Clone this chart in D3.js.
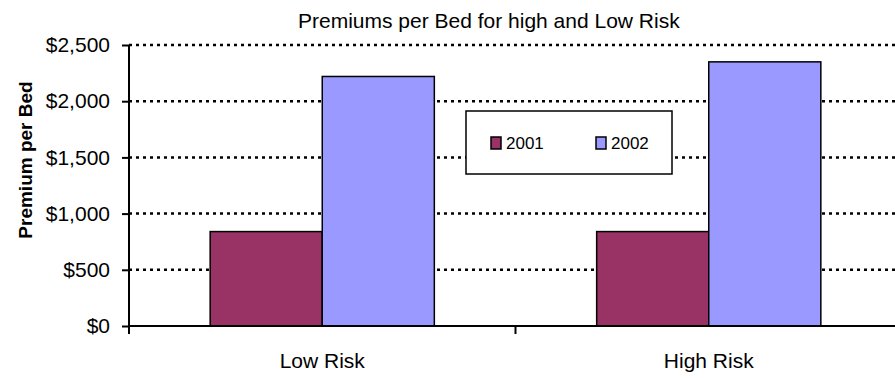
<!DOCTYPE html>
<html>
<head>
<meta charset="utf-8">
<script src="https://cdn.jsdelivr.net/npm/d3@7"></script>
<style>
  html, body { margin: 0; padding: 0; background: #fff; }
  svg { display: block; font-family: "Liberation Sans", Arial, sans-serif; }
</style>
</head>
<body>
<svg id="chart" width="895" height="378"></svg>
<script>
// Premium per bed, by risk class and year
const categories = ["Low Risk", "High Risk"];
const seriesNames = ["2001", "2002"];
const values2001 = [840, 840];
const values2002 = [2220, 2350];
const yTicks = [0, 500, 1000, 1500, 2000, 2500];
const colors = ["#993366", "#9999FF"];

const svg = d3.select("#chart");
const W = 895, H = 378;
const plot = { left: 129, right: 902, top: 45, bottom: 326 };

const rows = categories.map((c, i) => ({ category: c, values: [values2001[i], values2002[i]] }));

const y = d3.scaleLinear().domain([0, 2500]).range([plot.bottom, plot.top]);
const x0 = d3.scaleBand().domain(categories).range([plot.left, plot.right]).paddingInner(0).paddingOuter(0);
const gap = x0.bandwidth() * 0.21;
const x1 = d3.scaleBand().domain(seriesNames).range([gap, x0.bandwidth() - gap]).padding(0);

// Title
svg.append("text")
  .attr("x", 298).attr("y", 28)
  .attr("font-size", 21)
  .attr("fill", "#000")
  .text("Premiums per Bed for high and Low Risk");

// Dotted gridlines
svg.append("g")
  .selectAll("line")
  .data(yTicks.filter(t => t > 0))
  .join("line")
  .attr("x1", plot.left).attr("x2", W)
  .attr("y1", d => y(d)).attr("y2", d => y(d))
  .attr("stroke", "#000")
  .attr("stroke-width", 2.5)
  .attr("stroke-dasharray", "3,4");

// Bars
const groups = svg.append("g")
  .selectAll("g")
  .data(rows)
  .join("g")
  .attr("transform", d => `translate(${x0(d.category)},0)`);

groups.selectAll("rect")
  .data(d => d.values.map((v, i) => ({ series: seriesNames[i], value: v, color: colors[i] })))
  .join("rect")
  .attr("x", d => x1(d.series))
  .attr("y", d => y(d.value))
  .attr("width", x1.bandwidth())
  .attr("height", d => plot.bottom - y(d.value))
  .attr("fill", d => d.color)
  .attr("stroke", "#000")
  .attr("stroke-width", 1.5);

// Y axis
const yAxis = d3.axisLeft(y)
  .tickValues(yTicks)
  .tickSize(7)
  .tickPadding(12)
  .tickFormat(d => "$" + d3.format(",")(d));
const gy = svg.append("g")
  .attr("transform", `translate(${plot.left},0)`)
  .call(yAxis);
gy.select(".domain").attr("stroke", "#000").attr("stroke-width", 2)
  .attr("d", `M0,${plot.top}V${plot.bottom + 8}`);
gy.selectAll(".tick line").attr("stroke", "#000").attr("stroke-width", 2);
gy.selectAll(".tick text")
  .attr("font-size", 21)
  .attr("font-family", "Liberation Sans, Arial, sans-serif")
  .attr("fill", "#000");

// X axis
const xAxis = d3.axisBottom(x0).tickSize(0).tickPadding(27);
const gx = svg.append("g")
  .attr("transform", `translate(0,${plot.bottom})`)
  .call(xAxis);
gx.select(".domain").attr("stroke", "#000").attr("stroke-width", 2)
  .attr("d", `M${plot.left},0H${plot.right}`);
gx.selectAll(".tick text")
  .attr("font-size", 21)
  .attr("font-family", "Liberation Sans, Arial, sans-serif")
  .attr("fill", "#000")
  .attr("dy", "0.71em");
// Category separators
svg.append("g")
  .selectAll("line")
  .data(categories.slice(1))
  .join("line")
  .attr("x1", d => x0(d)).attr("x2", d => x0(d))
  .attr("y1", plot.bottom).attr("y2", plot.bottom + 8)
  .attr("stroke", "#000").attr("stroke-width", 2);

// Y axis title
svg.append("text")
  .attr("transform", `translate(32,160) rotate(-90)`)
  .attr("text-anchor", "middle")
  .attr("font-size", 19)
  .attr("font-weight", "bold")
  .attr("fill", "#000")
  .text("Premium per Bed");

// Legend
const legend = svg.append("g").attr("transform", "translate(466,111)");
legend.append("rect")
  .attr("width", 206).attr("height", 63)
  .attr("fill", "#fff").attr("stroke", "#000").attr("stroke-width", 1.5);
const items = legend.selectAll("g.item")
  .data(seriesNames)
  .join("g")
  .attr("class", "item")
  .attr("transform", (d, i) => `translate(${25 + i * 105},26)`);
items.append("rect")
  .attr("width", 10).attr("height", 12)
  .attr("fill", (d, i) => colors[i])
  .attr("stroke", "#000").attr("stroke-width", 1.5);
items.append("text")
  .attr("x", 15).attr("y", 12)
  .attr("font-size", 17)
  .attr("fill", "#000")
  .text(d => d);
</script>
</body>
</html>
